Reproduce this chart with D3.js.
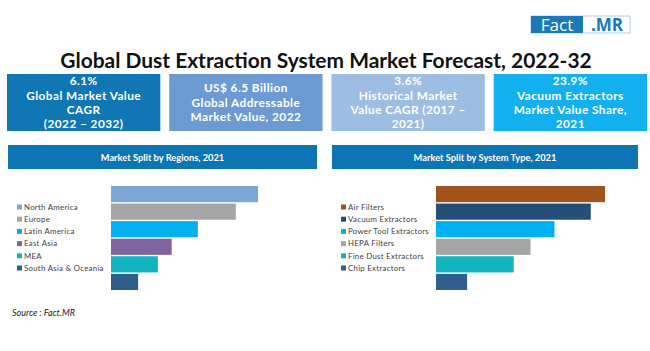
<!DOCTYPE html>
<html><head><meta charset="utf-8">
<script src="https://cdn.jsdelivr.net/npm/d3@7/dist/d3.min.js"></script>
<style>body{margin:0;background:#fff}svg{display:block}</style>
</head><body>
<svg id="c" width="650" height="351"></svg>
<script>
const title = "Global Dust Extraction System Market Forecast, 2022-32";
const kpiLines = [
  ["6.1%", "Global Market Value", "CAGR", "(2022 \u2013 2032)"],
  ["US$ 6.5 Billion", "Global Addressable", "Market Value, 2022"],
  ["3.6%", "Historical Market", "Value CAGR (2017 \u2013", "2021)"],
  ["23.9%", "Vacuum Extractors", "Market Value Share,", "2021"]
];
const kpiColors = ["#1076b4", "#6c9bd3", "#9dbde2", "#12b0ee"];
const regions = ["North America", "Europe", "Latin America", "East Asia", "MEA", "South Asia & Oceania"];
const regionShare = [29.8, 25.3, 17.6, 12.3, 9.5, 5.5];
const regionColors = ["#7ba7d7", "#a5a5a5", "#00b0f0", "#8064a2", "#12b5bf", "#2e5f8c"];
const systemTypes = ["Air Filters", "Vacuum Extractors", "Power Tool Extractors", "HEPA Filters", "Fine Dust Extractors", "Chip Extractors"];
const systemShare = [26.1, 23.9, 18.3, 14.6, 12.0, 4.8];
const systemColors = ["#a0531a", "#264f78", "#00b0f0", "#a5a5a5", "#12b5bf", "#2e5f8f"];
const panelTitles = ["Market Split by Regions, 2021", "Market Split by System Type, 2021"];

const svg = d3.select("#c");
const F = "Lato, 'Open Sans', sans-serif";
const FO = "'Open Sans', Lato, sans-serif";

function fitWidth(sel, w) {
  const n = sel.node();
  const fs = parseFloat(sel.attr("font-size"));
  const cur = n.getComputedTextLength();
  if (cur > 0) sel.attr("font-size", fs * w / cur);
}

// logo
const logo = svg.append("g");
logo.append("rect").attr("x", 531).attr("y", 16).attr("width", 99).attr("height", 17).attr("fill", "#fff").attr("stroke", "#9cc3e0").attr("stroke-width", 0.8);
logo.append("rect").attr("x", 531).attr("y", 16).attr("width", 52).attr("height", 17).attr("fill", "#1a7ab8");
logo.append("text").attr("x", 557).attr("y", 30.5).attr("text-anchor", "middle").attr("fill", "#fff").attr("font-family", FO).attr("font-size", 17).text("Fact");
logo.append("text").attr("x", 607).attr("y", 30.5).attr("text-anchor", "middle").attr("fill", "#1a7ab8").attr("font-family", FO).attr("font-weight", "bold").attr("font-size", 17).text(".MR");

// title
const t = svg.append("text").attr("x", 326).attr("y", 68).attr("text-anchor", "middle")
  .attr("font-family", F).attr("font-weight", "bold").attr("font-size", 18.5).attr("fill", "#111").text(title);
fitWidth(t, 532);

// KPI boxes
const kx = d3.scaleBand().domain(d3.range(kpiLines.length)).range([7, 647]).paddingInner(0.055);
const kg = svg.selectAll("g.kpi").data(kpiLines).join("g").attr("class", "kpi");
kg.append("rect").attr("x", (d, i) => kx(i)).attr("y", 74).attr("width", kx.bandwidth()).attr("height", 57)
  .attr("fill", (d, i) => kpiColors[i]);
kg.each(function(lines, i) {
  const g = d3.select(this);
  const lh = 14.3;
  const cy = 102.5;
  const y0 = cy - (lines.length - 1) * lh / 2;
  g.selectAll("text").data(lines).join("text")
    .attr("x", kx(i) + kx.bandwidth() / 2)
    .attr("y", (d, j) => y0 + j * lh + 4.2)
    .attr("text-anchor", "middle").attr("fill", "#fff")
    .attr("font-family", F).attr("font-weight", "bold").attr("font-size", 11.8)
    .attr("letter-spacing", 0.45).text(d => d);
});

// panels
function panel(x0, headerW, names, vals, colors, tIdx, barX, maxW, legX) {
  svg.append("rect").attr("x", x0).attr("y", 145).attr("width", headerW).attr("height", 24).attr("fill", "#0e75b4");
  svg.append("text").attr("x", x0 + headerW / 2).attr("y", 160.5).attr("text-anchor", "middle")
    .attr("fill", "#fff").attr("font-family", F).attr("font-weight", "bold").attr("font-size", 9.3).text(panelTitles[tIdx]);
  const x = d3.scaleLinear().domain([0, d3.max(vals)]).range([0, maxW]);
  const y = d3.scaleBand().domain(names).range([186, 290]).paddingInner(0.08);
  svg.append("g").selectAll("rect").data(names).join("rect")
    .attr("x", barX).attr("y", d => y(d)).attr("height", y.bandwidth())
    .attr("width", (d, i) => x(vals[i])).attr("fill", (d, i) => colors[i]);
  const ly = d3.scalePoint().domain(names).range([207, 268]);
  const lg = svg.append("g").selectAll("g").data(names).join("g")
    .attr("transform", d => `translate(${legX},${ly(d)})`);
  lg.append("rect").attr("x", 0).attr("y", -2.5).attr("width", 5).attr("height", 5).attr("fill", (d, i) => colors[i]);
  lg.append("text").attr("x", 7).attr("y", 2.8).attr("font-family", F).attr("font-size", 7.8)
    .attr("fill", "#404040").attr("letter-spacing", 0.3).text(d => d);
}
panel(8, 309, regions, regionShare, regionColors, 0, 111, 147, 17);
panel(332, 306, systemTypes, systemShare, systemColors, 1, 436, 169, 341);

// source
svg.append("text").attr("x", 12).attr("y", 316).attr("font-family", F).attr("font-style", "italic")
  .attr("font-size", 9).attr("fill", "#222").text("Source : Fact.MR");
</script>
</body></html>
